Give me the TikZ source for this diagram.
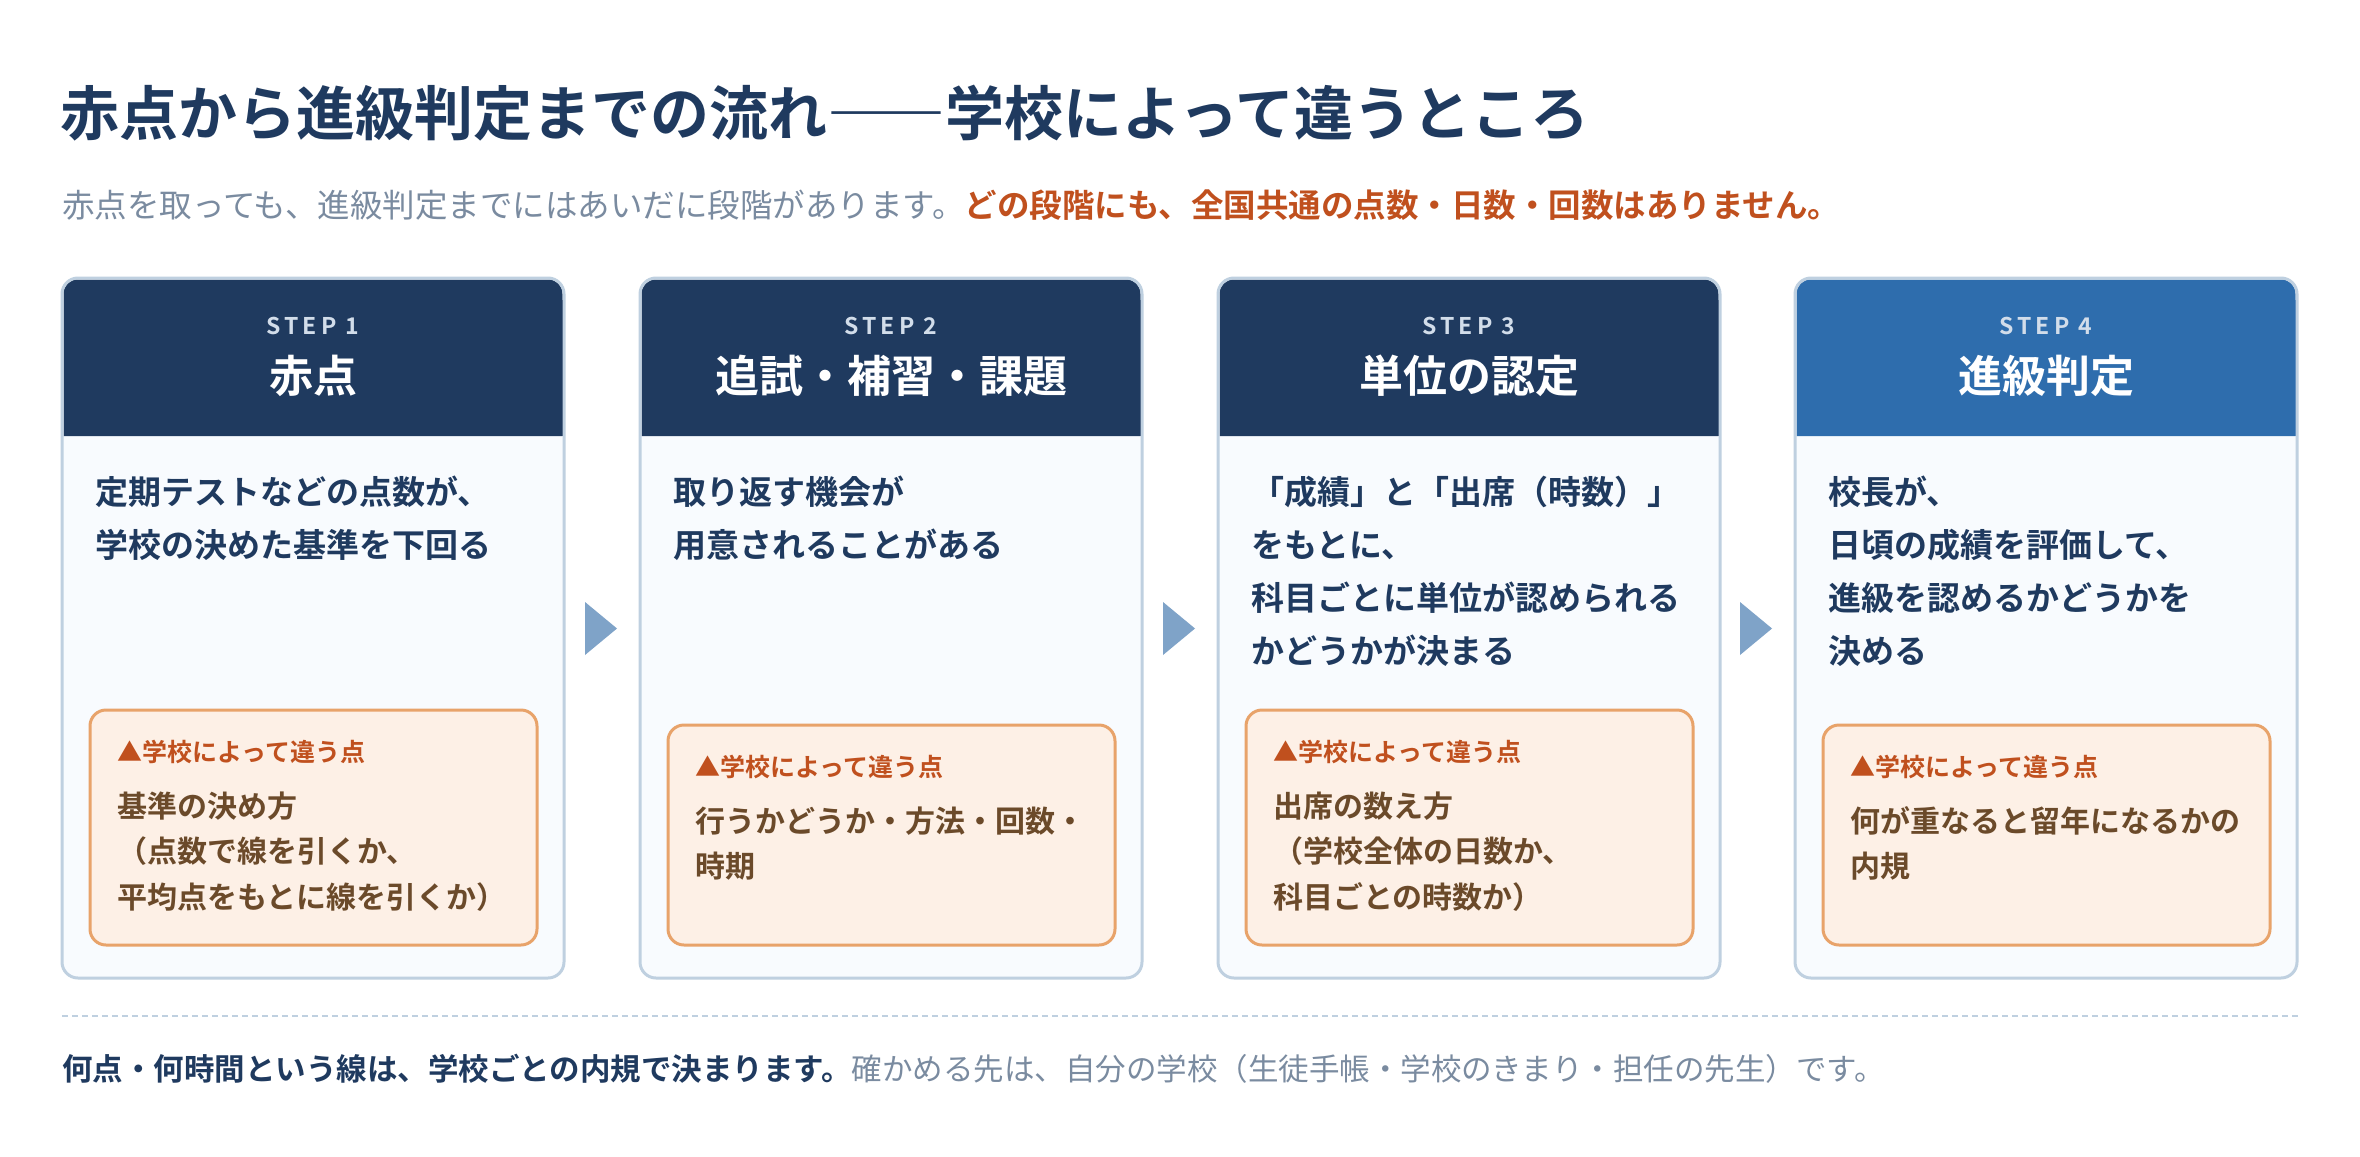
\documentclass[tikz,border=0pt]{standalone}
\usepackage{fontspec}
\setmainfont{Noto Sans CJK JP}
\newfontfamily\jpb{Noto Sans CJK JP Bold}
\newfontfamily\stepf[LetterSpace=18]{Noto Sans CJK JP Bold}
\definecolor{navy}{HTML}{1F3A5F}
\definecolor{blue4}{HTML}{2E6DAD}
\definecolor{cardbd}{HTML}{BFD0E0}
\definecolor{cardbg}{HTML}{F8FBFE}
\definecolor{obd}{HTML}{E8A36A}
\definecolor{obg}{HTML}{FDF0E6}
\definecolor{otx}{HTML}{C0501E}
\definecolor{btx}{HTML}{6B4A2A}
\definecolor{gtx}{HTML}{7A8BA0}
\definecolor{arr}{HTML}{7FA3C8}
\definecolor{steptx}{HTML}{D2DDEA}
\newcommand{\fs}[2]{\fontsize{#1}{#2}\selectfont}
\newcommand{\ml}[1]{\begin{tabular}[t]{@{}l@{}}#1\end{tabular}}
\begin{document}
\begin{tikzpicture}[x=1pt,y=-1pt,
  body/.style={anchor=base west,inner sep=0,text=navy,font=\jpb\fs{33}{53}},
  lab/.style={anchor=base west,inner sep=0,text=otx,font=\jpb\fs{25}{30}},
  btext/.style={anchor=base west,inner sep=0,text=btx,font=\jpb\fs{30}{45.5}},
  steplab/.style={inner sep=0,text=steptx,font=\stepf\fs{23}{28},anchor=base},
  ctitle/.style={inner sep=0,text=white,font=\jpb\fs{44}{50},anchor=base}]
\useasboundingbox[fill=white] (0,0) rectangle (2360,1156);
\node[anchor=base west,inner sep=0,text=navy,font=\jpb\fs{59}{66}] (title) at (60,135) {赤点から進級判定までの流れ――学校によって違うところ};
\node[anchor=base west,inner sep=0,font=\fs{32.5}{38}] (sub) at (62,217) {\textcolor{gtx}{赤点を取っても、進級判定までにはあいだに段階があります。}\textcolor{otx}{\jpb どの段階にも、全国共通の点数・日数・回数はありません。}};
\foreach \i/\L/\hc/\st/\ti/\bt/\bodytxt/\btxt in {
 1/62/navy/STEP 1/赤点/710/{定期テストなどの点数が、\\学校の決めた基準を下回る}/{基準の決め方\\ （点数で線を引くか、\\平均点をもとに線を引くか）},
 2/640/navy/STEP 2/追試・補習・課題/725/{取り返す機会が\\用意されることがある}/{行うかどうか・方法・回数・\\時期},
 3/1218/navy/STEP 3/単位の認定/710/{「成績」と「出席（時数）」\\をもとに、\\科目ごとに単位が認められる\\かどうかが決まる}/{出席の数え方\\ （学校全体の日数か、\\科目ごとの時数か）},
 4/1795/blue4/STEP 4/進級判定/725/{校長が、\\日頃の成績を評価して、\\進級を認めるかどうかを\\決める}/{何が重なると留年になるかの\\内規}}{
  \path[fill=cardbg,rounded corners=16pt] (\L,278) rectangle ++(502,700);
  \path[fill=\hc,rounded corners=14pt] (\L+1.5,279.5) -- (\L+500.5,279.5) [sharp corners]-- (\L+500.5,436) -- (\L+1.5,436) [rounded corners=14pt]-- cycle;
  \path[fill=\hc] (\L+1.5,300) rectangle (\L+500.5,436);
  \path[draw=cardbd,line width=3pt,rounded corners=16pt] (\L,278) rectangle ++(502,700);
  \node[steplab] (s\i) at (\L+251,334) {\st};
  \node[ctitle] (t\i) at (\L+251,392) {\ti};
  \node[body] (b\i) at (\L+33,504) {\ml{\bodytxt}};
  \path[fill=obg,draw=obd,line width=3pt,rounded corners=16pt] (\L+28,\bt) rectangle (\L+475,945);
  \node[lab] (l\i) at (\L+55,\bt+51) {▲学校によって違う点};
  \node[btext] (x\i) at (\L+55,\bt+107) {\ml{\btxt}};
}
\foreach \a/\x in {1/585,2/1163,3/1740}{
  \path[fill=arr] (\x,602) -- (\x+32,628.5) -- (\x,655) -- cycle;
}
\draw[cardbd,line width=1.5pt,dash pattern=on 6pt off 4pt] (62,1016) coordinate (d1) -- (2298,1016) coordinate (d2);
\node[anchor=base west,inner sep=0,font=\fs{30.5}{36}] (foot) at (62,1080) {\textcolor{navy}{\jpb 何点・何時間という線は、学校ごとの内規で決まります。}\textcolor{gtx}{確かめる先は、自分の学校（生徒手帳・学校のきまり・担任の先生）です。}};
\end{tikzpicture}
\end{document}
